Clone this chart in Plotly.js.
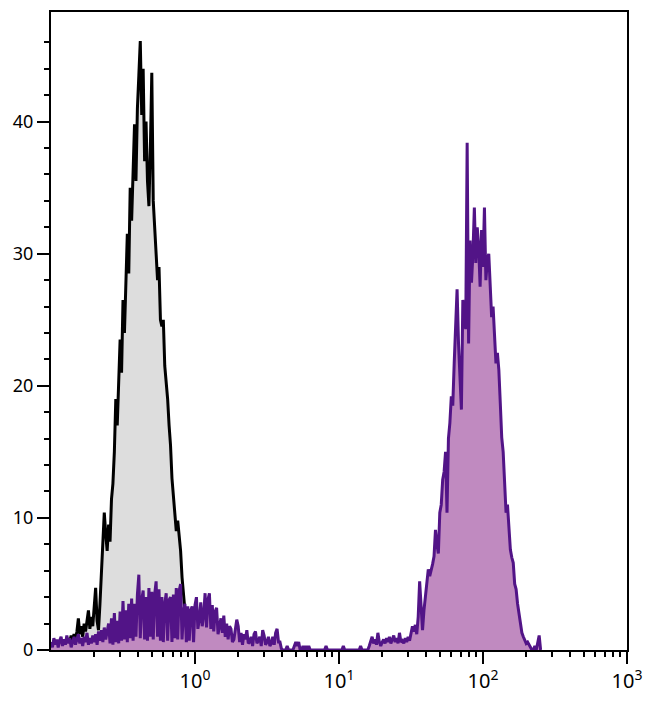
<!DOCTYPE html>
<html>
<head>
<meta charset="utf-8">
<script src="https://cdn.plot.ly/plotly-3.0.1.min.js"></script>
<style>html,body{margin:0;padding:0;background:#fff;}#chart{width:650px;height:702px;}</style>
</head>
<body>
<div id="chart"></div>
<script>
// Histogram channels: log10 bin centres, step 0.01 decade
var binStep = 0.01;

// Control (gray) histogram, first bin at log10 = -0.93
var grayStart = -0.93;
var grayCounts = [
  0.3,0.5,0.2,0.8,0.4,0.9,0.6,1.1,0.7,1.2,
  0.8,1.4,2.4,1.2,1.8,1.0,2.0,1.4,2.2,3.0,
  1.6,2.5,1.8,3.3,4.7,2.2,1.5,3.5,6.0,8.5,
  10.4,8.8,7.5,9.5,8.2,11.4,12.6,15.0,19.0,17.0,
  21.0,23.5,21.0,26.5,24.0,29.0,31.5,28.5,35.0,32.5,
  37.0,39.8,35.5,41.0,43.5,46.1,40.5,44.0,37.0,40.0,
  35.5,33.6,38.0,43.7,34.0,32.0,29.5,28.0,29.0,25.0,
  24.5,25.0,21.5,20.5,19.0,17.0,15.5,13.0,11.5,10.5,
  9.0,9.8,8.5,7.5,5.5,4.5,3.0,1.5,0.3
];

// Stained (purple) histogram, first bin at log10 = -1.00
var purpleStart = -1.00;
var purpleLow = [
  0.6,0.2,0.9,0.4,0.8,0.2,0.7,1.0,0.3,0.8,
  0.4,1.1,0.5,0.9,0.2,0.7,1.0,0.4,0.8,1.2,
  0.5,0.9,0.3,1.0,0.6,1.3,0.4,0.9,0.5,1.1,
  0.6,1.2,0.4,1.4,0.7,1.5,0.6,1.7,0.8,1.3,
  2.0,0.5,2.4,0.4,2.8,0.6,2.2,0.5,2.9,0.7,
  3.7,0.8,3.0,0.6,3.5,0.9,3.9,0.7,3.5,1.0,
  4.2,5.7,0.9,3.8,4.5,0.8,4.0,0.7,4.7,1.0,
  4.4,0.8,4.2,5.2,1.0,4.6,0.7,4.0,0.6,3.5,
  4.3,0.7,3.8,4.0,0.6,4.2,0.9,4.7,0.8,4.5,
  5.0,0.8,2.8,3.5,0.6,3.3,0.7,3.0,3.3,0.6,
  3.4,4.0,1.6,2.3,3.6,1.8,2.6,4.3,1.7,3.8,
  4.3,1.6,3.4,1.4,2.9,3.2,1.2,1.8,2.4,1.3,
  2.6,1.0,2.0,0.8,1.8,1.6,0.6,0.8,1.4,2.3,
  1.8,0.6,1.3,0.4,1.2,0.8,1.5,0.5,0.6,1.0,
  0.3,1.2,1.4,0.5,0.7,1.0,0.3,1.5,1.1,0.4,
  0.6,1.0,0.3,0.5,1.0,0.4,1.3,1.6,0.6,0.6,
  0.1,0
];
var purpleMid = [
  0,0,0.3,0,0,0,0,0.3,0.6,0.3,
  0.6,0,0,0.3,0,0.3,0,0.3,0,0,
  0,0,0,0,0,0,0,0,0,0.3,
  0,0,0,0,0,0,0,0,0,0,
  0,0.3,0,0,0,0,0,0,0,0,
  0,0,0,0.3,0,0,0,0,0,0.3,
  0.6,1.0,0.5,0.8,0.4,1.3,0.6,0.3,0.6,0.8,
  0.5,0.9,0.6,1.0,0.5,0.8,1.1,0.6,0.9,0.5,
  1.3,0.6
];
var purpleHigh = [
  0.7,0.5,0.9,0.6,1.0,0.7,1.3,1.8,1.4,1.9,
  1.2,2.5,5.2,2.8,1.5,3.0,4.2,5.0,6.1,5.6,
  6.0,6.5,7.1,9.1,8.0,7.3,10.4,11.0,12.9,13.5,
  15.0,10.4,16.0,17.2,19.2,18.5,21.7,24.3,27.3,23.2,
  20.5,18.2,26.5,25.0,24.3,38.4,23.2,31.0,27.8,30.0,
  33.5,29.3,32.0,30.5,27.5,31.8,29.0,33.5,28.0,29.5,
  30.0,27.3,25.2,26.0,23.7,21.7,22.5,21.2,18.7,16.1,
  15.0,12.9,10.4,11.0,9.1,7.6,7.0,6.6,5.0,4.6,
  3.5,2.8,2.0,1.3,1.0,0.8,0.5,0.6,0.4,0.2,
  0,0,0.3,0,0.6,1.1,0
];

var xTickVals = [1, 10, 100, 1000];
var xTickText = ['10<sup>0</sup>', '10<sup>1</sup>', '10<sup>2</sup>', '10<sup>3</sup>'];
var yTickVals = [0, 10, 20, 30, 40];
var yTickText = ['0', '10', '20', '30', '40'];

function binX(start, n) {
  var xs = [];
  for (var i = 0; i < n; i++) xs.push(Math.pow(10, start + i * binStep));
  return xs;
}
var purpleCounts = purpleLow.concat(purpleMid, purpleHigh);

var xMinor = [];
[0.1, 1, 10, 100].forEach(function (d) {
  for (var m = 2; m <= 9; m++) xMinor.push(d * m);
});
var yMinor = [];
for (var v = 2; v <= 46; v += 2) if (v % 10 !== 0) yMinor.push(v);

var traces = [
  {
    x: binX(grayStart, grayCounts.length), y: grayCounts,
    type: 'scatter', mode: 'lines', fill: 'tozeroy',
    fillcolor: 'rgb(221,221,221)',
    line: {color: '#000000', width: 3}
  },
  {
    x: binX(purpleStart, purpleCounts.length), y: purpleCounts,
    type: 'scatter', mode: 'lines', fill: 'tozeroy',
    fillcolor: 'rgb(192,138,192)',
    line: {color: 'rgb(82,20,135)', width: 3}
  }
];

var layout = {
  width: 650, height: 702,
  margin: {l: 51, r: 23, t: 12, b: 52},
  paper_bgcolor: '#ffffff', plot_bgcolor: '#ffffff',
  showlegend: false,
  font: {family: 'Noto Sans, Open Sans, sans-serif', size: 18, color: '#000'},
  xaxis: {
    type: 'log', range: [-1, 3],
    showgrid: false, zeroline: false,
    showline: true, linecolor: '#000', linewidth: 2, mirror: true,
    tickmode: 'array', tickvals: xTickVals, ticktext: xTickText,
    ticks: 'outside', ticklen: 12, tickwidth: 2, tickcolor: '#000',
    tickfont: {size: 20},
    minor: {tickmode: 'array', tickvals: xMinor, ticks: 'outside', ticklen: 5, tickwidth: 2, tickcolor: '#000', showgrid: false}
  },
  yaxis: {
    range: [0, 48.3],
    showgrid: false, zeroline: false,
    showline: true, linecolor: '#000', linewidth: 2, mirror: true,
    tickmode: 'array', tickvals: yTickVals, ticktext: yTickText,
    ticks: 'outside', ticklen: 12, tickwidth: 2, tickcolor: '#000',
    tickfont: {size: 18},
    minor: {tickmode: 'array', tickvals: yMinor, ticks: 'outside', ticklen: 5, tickwidth: 2, tickcolor: '#000', showgrid: false}
  }
};

Plotly.newPlot('chart', traces, layout, {staticPlot: true, displayModeBar: false});
</script>
</body>
</html>
